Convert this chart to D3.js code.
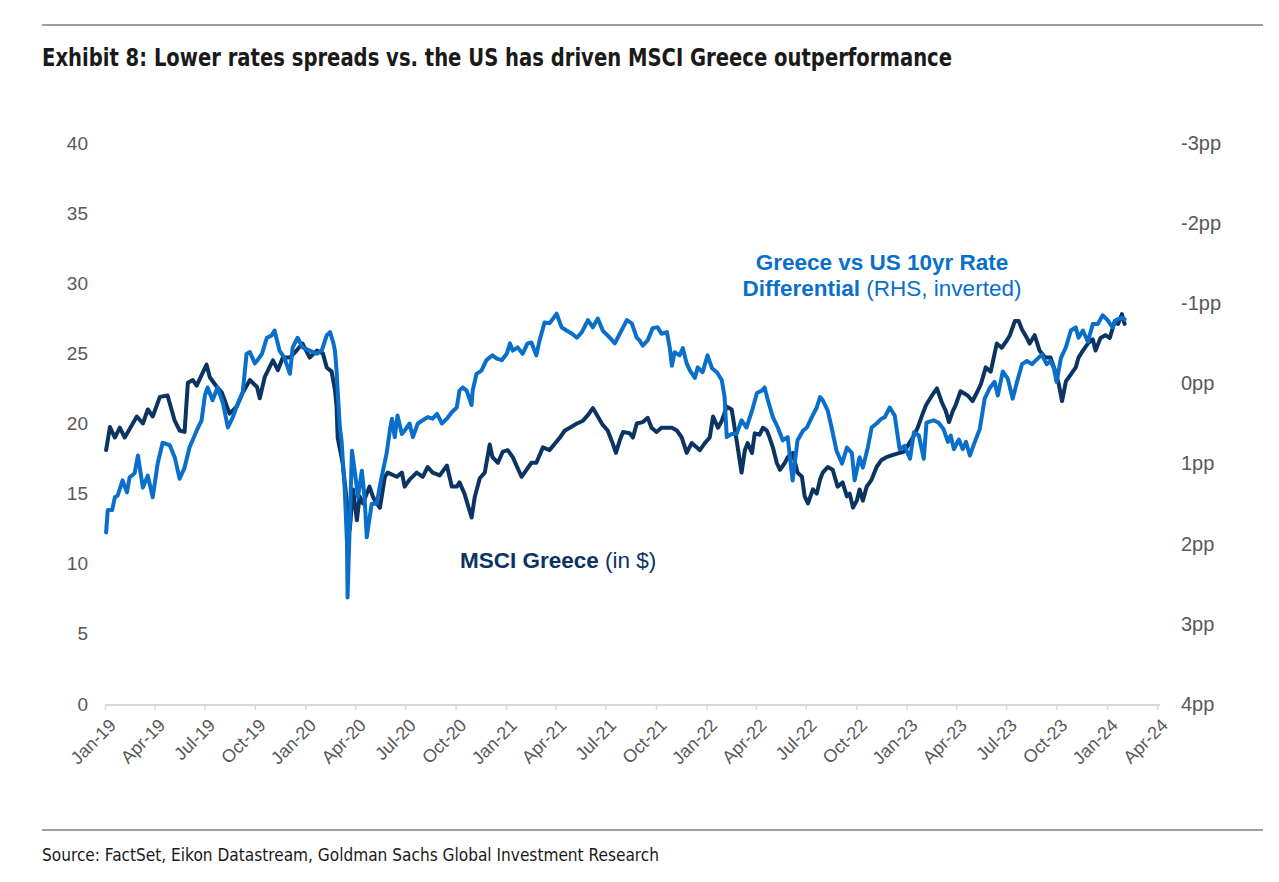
<!DOCTYPE html>
<html>
<head>
<meta charset="utf-8">
<script src="https://cdn.jsdelivr.net/npm/d3@7"></script>
<style>
  html, body { margin: 0; padding: 0; background: #fff; }
  svg { display: block; }
</style>
</head>
<body>
<svg id="chart" width="1279" height="882"></svg>
<script>
// ---------------- DATA ----------------
const titleText = "Exhibit 8: Lower rates spreads vs. the US has driven MSCI Greece outperformance";
const sourceText = "Source: FactSet, Eikon Datastream, Goldman Sachs Global Investment Research";

const leftTicks = [0, 5, 10, 15, 20, 25, 30, 35, 40];
const rightTicks = [-3, -2, -1, 0, 1, 2, 3, 4];
const rightTickLabels = ["-3pp", "-2pp", "-1pp", "0pp", "1pp", "2pp", "3pp", "4pp"];
const xTickDates = ["2019-01-01","2019-04-01","2019-07-01","2019-10-01","2020-01-01","2020-04-01","2020-07-01","2020-10-01","2021-01-01","2021-04-01","2021-07-01","2021-10-01","2022-01-01","2022-04-01","2022-07-01","2022-10-01","2023-01-01","2023-04-01","2023-07-01","2023-10-01","2024-01-01","2024-04-01"];

// MSCI Greece (in $), left axis
const msciDates = ["2019-01-03","2019-01-10","2019-01-19","2019-01-28","2019-02-06","2019-02-28","2019-03-11","2019-03-20","2019-03-29","2019-04-11","2019-04-25","2019-05-08","2019-05-17","2019-05-26","2019-06-01","2019-06-10","2019-06-17","2019-07-05","2019-07-11","2019-07-24","2019-08-02","2019-08-16","2019-08-29","2019-09-09","2019-09-22","2019-10-05","2019-10-10","2019-10-19","2019-11-03","2019-11-12","2019-11-21","2019-12-04","2019-12-16","2019-12-27","2020-01-09","2020-01-22","2020-02-02","2020-02-09","2020-02-18","2020-02-24","2020-02-27","2020-02-29","2020-03-09","2020-03-17","2020-03-22","2020-03-28","2020-04-04","2020-04-09","2020-04-15","2020-04-27","2020-05-03","2020-05-10","2020-05-16","2020-05-25","2020-05-30","2020-06-16","2020-06-25","2020-06-30","2020-07-09","2020-07-22","2020-08-02","2020-08-11","2020-08-20","2020-09-02","2020-09-15","2020-09-24","2020-10-03","2020-10-08","2020-10-17","2020-10-30","2020-11-05","2020-11-14","2020-11-23","2020-12-02","2020-12-07","2020-12-17","2020-12-26","2021-01-04","2021-01-13","2021-01-29","2021-02-07","2021-02-16","2021-02-25","2021-03-09","2021-03-21","2021-04-09","2021-04-18","2021-04-27","2021-05-10","2021-05-21","2021-05-30","2021-06-08","2021-06-17","2021-06-26","2021-07-05","2021-07-14","2021-07-20","2021-07-27","2021-08-02","2021-08-14","2021-08-20","2021-08-27","2021-09-07","2021-09-16","2021-09-23","2021-10-02","2021-10-11","2021-10-21","2021-10-30","2021-11-08","2021-11-17","2021-11-26","2021-12-05","2021-12-14","2021-12-20","2021-12-29","2022-01-07","2022-01-13","2022-01-22","2022-01-29","2022-02-07","2022-02-16","2022-02-25","2022-03-06","2022-03-12","2022-03-17","2022-03-25","2022-03-30","2022-04-08","2022-04-14","2022-04-21","2022-04-26","2022-05-02","2022-05-09","2022-05-15","2022-05-24","2022-05-29","2022-06-07","2022-06-16","2022-06-24","2022-06-29","2022-07-05","2022-07-14","2022-07-21","2022-07-27","2022-08-01","2022-08-10","2022-08-19","2022-08-28","2022-09-06","2022-09-14","2022-09-19","2022-09-25","2022-10-02","2022-10-07","2022-10-13","2022-10-20","2022-10-29","2022-11-07","2022-11-16","2022-11-25","2022-12-10","2022-12-27","2023-01-01","2023-01-12","2023-01-21","2023-01-30","2023-02-05","2023-02-16","2023-02-25","2023-03-06","2023-03-13","2023-03-19","2023-03-26","2023-03-31","2023-04-09","2023-04-22","2023-05-01","2023-05-10","2023-05-16","2023-05-25","2023-06-03","2023-06-14","2023-06-23","2023-07-02","2023-07-08","2023-07-17","2023-07-24","2023-07-30","2023-08-08","2023-08-13","2023-08-22","2023-08-31","2023-09-10","2023-09-20","2023-09-29","2023-10-05","2023-10-11","2023-10-18","2023-10-27","2023-11-05","2023-11-10","2023-11-18","2023-11-27","2023-12-06","2023-12-11","2023-12-20","2023-12-29","2024-01-06","2024-01-15","2024-01-21","2024-01-28","2024-02-02"];
const msciValues = [18.1,19.75,19.0,19.7,19.0,20.5,20.0,21.0,20.5,21.9,22.0,20.2,19.5,19.4,22.9,23.1,22.7,24.2,23.3,22.6,22.2,20.7,21.2,22.2,23.1,22.6,21.8,23.3,24.5,23.8,24.7,24.7,25.2,25.7,24.7,25.2,25.0,24.0,23.7,22.4,21.2,19.0,17.2,14.3,12.4,15.3,13.1,14.8,14.3,15.5,14.8,14.3,14.0,16.2,16.5,16.2,16.5,15.5,16.0,16.5,16.2,16.9,16.5,16.3,17.0,15.5,15.5,15.8,15.0,13.3,14.8,16.1,16.5,18.5,17.6,17.2,18.0,18.1,17.6,16.2,16.7,17.2,17.2,18.3,18.1,19.0,19.5,19.7,20.0,20.2,20.6,21.1,20.5,19.9,19.5,18.6,17.9,18.8,19.4,19.3,19.0,20.0,20.1,20.4,19.7,19.4,19.7,19.7,19.7,19.5,19.0,17.9,18.6,18.3,18.1,18.6,19.0,20.5,19.7,20.2,21.2,21.0,18.8,16.5,18.1,18.6,17.9,19.3,19.2,19.7,19.5,19.0,18.3,17.2,16.7,17.2,17.6,17.9,16.5,16.2,14.8,14.3,15.3,15.0,16.0,16.5,16.9,16.7,15.5,15.8,14.8,15.0,14.0,14.5,15.3,14.5,15.5,16.0,16.9,17.4,17.6,17.8,18.0,18.3,19.0,19.7,20.7,21.3,22.0,22.5,21.5,20.9,20.1,20.9,21.3,22.3,22.0,21.6,22.3,22.8,24.0,23.7,25.7,25.4,25.9,26.3,27.3,27.3,26.7,26.1,25.7,26.3,25.2,24.7,24.7,23.7,22.8,21.6,23.0,23.5,24.0,24.7,25.2,25.7,26.0,25.2,26.1,26.3,26.1,27.3,27.1,27.8,27.1];

// Greece vs US 10yr rate differential (pp), right axis, inverted
const rateDates = ["2019-01-03","2019-01-06","2019-01-14","2019-01-19","2019-01-24","2019-02-02","2019-02-10","2019-02-15","2019-02-24","2019-03-02","2019-03-11","2019-03-20","2019-03-29","2019-04-07","2019-04-16","2019-04-29","2019-05-08","2019-05-17","2019-05-26","2019-06-04","2019-06-17","2019-06-26","2019-07-02","2019-07-07","2019-07-16","2019-07-25","2019-08-04","2019-08-13","2019-08-22","2019-08-31","2019-09-09","2019-09-16","2019-09-22","2019-10-01","2019-10-06","2019-10-14","2019-10-23","2019-11-01","2019-11-06","2019-11-15","2019-11-24","2019-12-04","2019-12-09","2019-12-18","2019-12-27","2020-01-09","2020-01-22","2020-01-31","2020-02-09","2020-02-15","2020-02-21","2020-02-24","2020-02-27","2020-02-29","2020-03-04","2020-03-07","2020-03-13","2020-03-17","2020-03-18","2020-03-26","2020-03-31","2020-04-06","2020-04-13","2020-04-18","2020-04-22","2020-05-01","2020-05-10","2020-05-19","2020-05-28","2020-06-03","2020-06-07","2020-06-12","2020-06-17","2020-06-25","2020-06-30","2020-07-09","2020-07-15","2020-07-24","2020-08-02","2020-08-11","2020-08-20","2020-08-28","2020-09-06","2020-09-15","2020-09-24","2020-10-03","2020-10-08","2020-10-14","2020-10-21","2020-10-30","2020-11-01","2020-11-08","2020-11-17","2020-11-26","2020-12-07","2020-12-15","2020-12-24","2021-01-02","2021-01-08","2021-01-13","2021-01-22","2021-01-31","2021-02-09","2021-02-16","2021-02-25","2021-03-03","2021-03-12","2021-03-21","2021-04-03","2021-04-12","2021-04-21","2021-05-01","2021-05-10","2021-05-19","2021-05-30","2021-06-08","2021-06-17","2021-06-26","2021-07-09","2021-07-18","2021-07-27","2021-08-09","2021-08-18","2021-08-27","2021-09-01","2021-09-07","2021-09-16","2021-09-25","2021-10-04","2021-10-11","2021-10-21","2021-10-26","2021-10-30","2021-11-04","2021-11-13","2021-11-19","2021-11-26","2021-12-02","2021-12-11","2021-12-16","2021-12-25","2022-01-03","2022-01-11","2022-01-20","2022-01-29","2022-02-03","2022-02-07","2022-02-16","2022-02-25","2022-03-06","2022-03-15","2022-03-25","2022-04-03","2022-04-12","2022-04-17","2022-04-23","2022-05-02","2022-05-11","2022-05-20","2022-05-29","2022-06-07","2022-06-16","2022-06-26","2022-07-03","2022-07-12","2022-07-21","2022-07-27","2022-08-01","2022-08-10","2022-08-17","2022-08-26","2022-09-05","2022-09-14","2022-09-23","2022-09-28","2022-10-07","2022-10-13","2022-10-22","2022-10-29","2022-11-07","2022-11-16","2022-11-22","2022-12-01","2022-12-10","2022-12-19","2022-12-28","2023-01-07","2023-01-14","2023-01-23","2023-02-01","2023-02-06","2023-02-19","2023-02-28","2023-03-09","2023-03-17","2023-03-22","2023-03-28","2023-04-06","2023-04-13","2023-04-19","2023-04-26","2023-05-05","2023-05-14","2023-05-23","2023-06-01","2023-06-10","2023-06-16","2023-06-25","2023-07-04","2023-07-13","2023-07-21","2023-07-30","2023-08-08","2023-08-17","2023-08-26","2023-09-04","2023-09-13","2023-09-20","2023-09-26","2023-10-01","2023-10-09","2023-10-18","2023-10-27","2023-11-05","2023-11-10","2023-11-18","2023-11-27","2023-12-06","2023-12-15","2023-12-24","2024-01-02","2024-01-11","2024-01-17","2024-01-28","2024-02-02"];
const rateValues = [1.86,1.58,1.58,1.42,1.40,1.21,1.36,1.17,1.12,0.90,1.30,1.15,1.42,1.00,0.74,0.77,0.92,1.19,1.05,0.80,0.59,0.46,0.15,0.05,0.21,0.05,0.25,0.55,0.42,0.25,0.11,-0.37,-0.39,-0.25,-0.29,-0.37,-0.57,-0.60,-0.66,-0.41,-0.32,-0.12,-0.45,-0.57,-0.45,-0.41,-0.37,-0.41,-0.60,-0.64,-0.51,-0.41,-0.16,0.09,0.55,0.71,1.34,2.00,2.67,0.84,1.09,1.42,1.09,1.42,1.92,1.50,1.50,1.17,0.88,0.59,0.44,0.67,0.40,0.63,0.59,0.50,0.67,0.50,0.46,0.42,0.44,0.38,0.50,0.44,0.36,0.30,0.09,0.05,0.09,0.27,0.09,-0.12,-0.16,-0.29,-0.35,-0.31,-0.29,-0.37,-0.50,-0.41,-0.45,-0.37,-0.50,-0.51,-0.35,-0.54,-0.76,-0.75,-0.87,-0.70,-0.66,-0.62,-0.57,-0.64,-0.79,-0.70,-0.81,-0.66,-0.57,-0.50,-0.62,-0.79,-0.75,-0.57,-0.54,-0.47,-0.54,-0.69,-0.70,-0.62,-0.64,-0.45,-0.22,-0.39,-0.35,-0.44,-0.25,-0.16,-0.07,-0.20,-0.14,-0.35,-0.19,-0.14,-0.04,0.17,0.67,0.63,0.63,0.46,0.55,0.34,0.12,0.09,0.05,0.21,0.42,0.55,0.71,0.67,1.21,0.71,0.59,0.55,0.42,0.30,0.17,0.21,0.34,0.55,0.84,1.00,0.80,0.87,1.21,0.92,1.05,0.80,0.55,0.50,0.44,0.42,0.30,0.40,0.82,0.78,0.94,0.61,0.65,0.94,0.49,0.46,0.49,0.57,0.73,0.65,0.82,0.70,0.82,0.73,0.90,0.73,0.57,0.19,0.06,-0.02,0.15,-0.15,-0.06,0.19,-0.02,-0.24,-0.28,-0.24,-0.30,-0.36,-0.24,-0.28,-0.19,-0.02,-0.32,-0.45,-0.66,-0.70,-0.57,-0.66,-0.52,-0.74,-0.74,-0.85,-0.79,-0.70,-0.79,-0.82,-0.80];

// ---------------- CHART ----------------
const parse = d3.timeParse("%Y-%m-%d");
const msci = msciDates.map((d, i) => ({ date: parse(d), v: msciValues[i] }));
const rate = rateDates.map((d, i) => ({ date: parse(d), v: rateValues[i] }));

const svg = d3.select("#chart");
const fontMain = "'Liberation Sans', Arial, Helvetica, sans-serif";
const fontNarrow = "'Liberation Sans Narrow', 'Arial Narrow', 'DejaVu Sans Condensed', sans-serif";
const darkColor = "#0b3463";
const blueColor = "#0a6fcb";
const labelColor = "#595959";

// rules
svg.append("line").attr("x1", 42).attr("x2", 1263).attr("y1", 25).attr("y2", 25)
  .attr("stroke", "#7f7f7f").attr("stroke-width", 1.5);
svg.append("line").attr("x1", 42).attr("x2", 1263).attr("y1", 830).attr("y2", 830)
  .attr("stroke", "#7f7f7f").attr("stroke-width", 1.5);

// title
svg.append("text").attr("x", 42).attr("y", 66)
  .attr("font-family", fontNarrow).attr("font-weight", "bold").attr("font-size", 25)
  .attr("fill", "#1a1a1a").attr("textLength", 910).attr("lengthAdjust", "spacingAndGlyphs")
  .text(titleText);

// source
svg.append("text").attr("x", 42).attr("y", 861)
  .attr("font-family", fontNarrow).attr("font-size", 18)
  .attr("fill", "#1a1a1a").attr("textLength", 617).attr("lengthAdjust", "spacingAndGlyphs")
  .text(sourceText);

// scales
const x = d3.scaleTime().domain([parse("2019-01-01"), parse("2024-04-01")]).range([105, 1157]);
const yL = d3.scaleLinear().domain([0, 40]).range([704, 143]);
const yR = d3.scaleLinear().domain([-3, 4]).range([143, 704]);

// x axis
const xAxis = d3.axisBottom(x)
  .tickValues(xTickDates.map(parse))
  .tickFormat(d3.timeFormat("%b-%y"))
  .tickSizeInner(5).tickSizeOuter(0).tickPadding(4);
const gx = svg.append("g").attr("transform", "translate(0,705)").call(xAxis);
gx.select(".domain").attr("stroke", "#d9d9d9").attr("stroke-width", 2).attr("d", "M105,0H1160");
gx.selectAll(".tick line").attr("stroke", "#d9d9d9").attr("stroke-width", 1.5);
gx.selectAll(".tick text")
  .attr("font-family", fontMain).attr("font-size", 18).attr("fill", labelColor)
  .attr("text-anchor", "end")
  .attr("transform", "translate(7,17) rotate(-45)")
  .attr("x", 0).attr("y", 0).attr("dy", "0.35em");

// left axis
const gl = svg.append("g").attr("transform", "translate(88,0)")
  .call(d3.axisLeft(yL).tickValues(leftTicks).tickSize(0).tickPadding(0));
gl.select(".domain").remove();
gl.selectAll(".tick text").attr("font-family", fontMain).attr("font-size", 19).attr("fill", labelColor);

// right axis
const gr = svg.append("g").attr("transform", "translate(1181,0)")
  .call(d3.axisRight(yR).tickValues(rightTicks).tickSize(0).tickPadding(0)
    .tickFormat((d, i) => rightTickLabels[i]));
gr.select(".domain").remove();
gr.selectAll(".tick text").attr("font-family", fontMain).attr("font-size", 20).attr("fill", labelColor);

// lines
const lineL = d3.line().x(d => x(d.date)).y(d => yL(d.v));
const lineR = d3.line().x(d => x(d.date)).y(d => yR(d.v));

svg.append("path").datum(msci).attr("d", lineL)
  .attr("fill", "none").attr("stroke", darkColor).attr("stroke-width", 4)
  .attr("stroke-linejoin", "round").attr("stroke-linecap", "round");
svg.append("path").datum(rate).attr("d", lineR)
  .attr("fill", "none").attr("stroke", blueColor).attr("stroke-width", 4)
  .attr("stroke-linejoin", "round").attr("stroke-linecap", "round");

// annotations
const a1 = svg.append("text").attr("x", 882).attr("y", 270).attr("text-anchor", "middle")
  .attr("font-family", fontMain).attr("font-size", 22.5).attr("fill", blueColor);
a1.append("tspan").attr("font-weight", "bold").text("Greece vs US 10yr Rate");
const a2 = svg.append("text").attr("x", 882).attr("y", 296).attr("text-anchor", "middle")
  .attr("font-family", fontMain).attr("font-size", 22.5).attr("fill", blueColor);
a2.append("tspan").attr("font-weight", "bold").text("Differential");
a2.append("tspan").text(" (RHS, inverted)");

const a3 = svg.append("text").attr("x", 460).attr("y", 568)
  .attr("font-family", fontMain).attr("font-size", 22.5).attr("fill", darkColor);
a3.append("tspan").attr("font-weight", "bold").text("MSCI Greece");
a3.append("tspan").text(" (in $)");
</script>
</body>
</html>
